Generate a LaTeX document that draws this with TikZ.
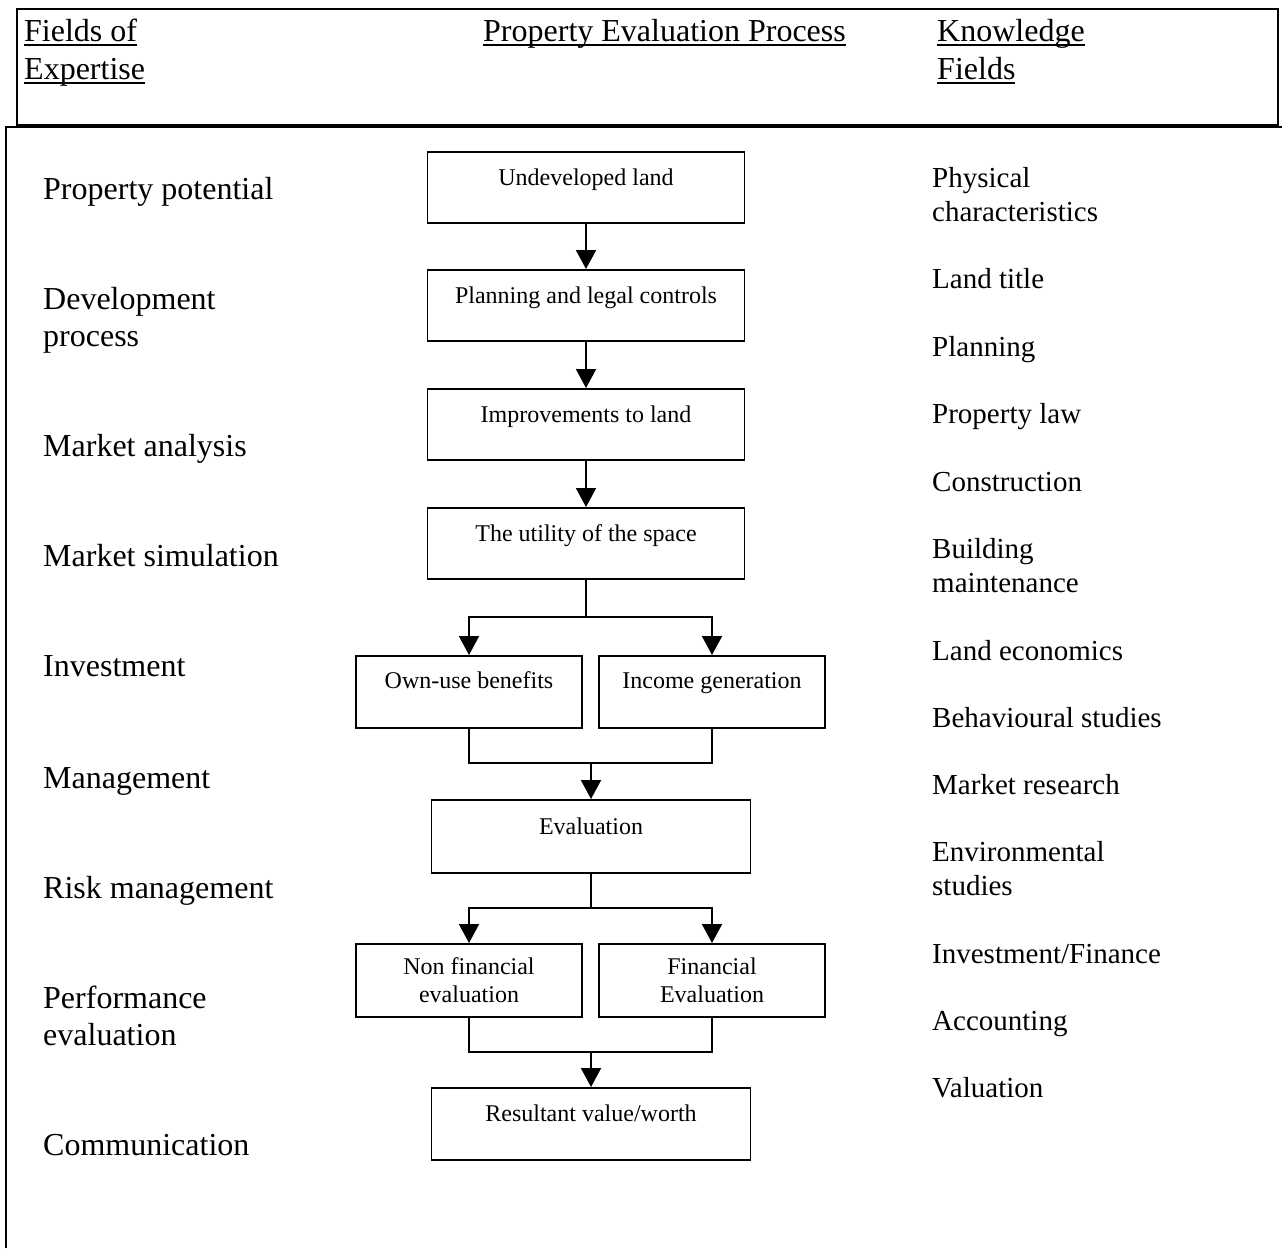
\documentclass[tikz,border=0pt]{standalone}
\usepackage{fontspec}
\setmainfont{Liberation Serif}
\usetikzlibrary{arrows.meta}
\newsavebox\ulbox
\newcommand\myul[1]{\sbox\ulbox{#1}\rlap{\rule[-4.5pt]{\wd\ulbox}{1.6pt}}\usebox\ulbox}
\begin{document}
\begin{tikzpicture}[x=1pt,y=-1pt,
  hdr/.style={anchor=base west, inner sep=0pt, align=left, font=\fontsize{32}{38}\selectfont},
  lft/.style={anchor=base west, inner sep=0pt, align=left, font=\fontsize{32}{37}\selectfont},
  rgt/.style={anchor=base west, inner sep=0pt, align=left, font=\fontsize{29}{34}\selectfont},
  box/.style={draw, line width=1.8pt, inner xsep=0pt, inner ysep=0pt, anchor=north, font=\fontsize{24}{28}\selectfont},
  one/.style={box, text height=34pt, text depth=37pt},
  conn/.style={line width=2pt},
  arr/.style={conn, -{Triangle[length=19pt,width=20pt]}}]
\useasboundingbox (0,0) rectangle (1282,1248);
% frames
\draw[line width=2.5pt] (17,9) rectangle (1278,125.5);
\draw[line width=2pt] (6,1248) -- (6,127) -- (1282,127);
% header (base = last line)
\node[hdr] (h1) at (24,79) {\myul{Fields of}\\\myul{Expertise}};
\node[hdr] (h2) at (483,41) {\myul{Property Evaluation Process}};
\node[hdr] (h3) at (937,79) {\myul{Knowledge}\\\myul{Fields}};
% left column
\node[lft] (l1) at (43,199) {Property potential};
\node[lft] (l2) at (43,346) {Development\\process};
\node[lft] (l3) at (43,456) {Market analysis};
\node[lft] (l4) at (43,566) {Market simulation};
\node[lft] (l5) at (43,676) {Investment};
\node[lft] (l6) at (43,788) {Management};
\node[lft] (l7) at (43,898) {Risk management};
\node[lft] (l8) at (43,1045) {Performance\\evaluation};
\node[lft] (l9) at (43,1155) {Communication};
% right column
\node[rgt] (r1) at (932,221) {Physical\\characteristics};
\node[rgt] (r2) at (932,288) {Land title};
\node[rgt] (r3) at (932,356) {Planning};
\node[rgt] (r4) at (932,423) {Property law};
\node[rgt] (r5) at (932,491) {Construction};
\node[rgt] (r6) at (932,592) {Building\\maintenance};
\node[rgt] (r7) at (932,660) {Land economics};
\node[rgt] (r8) at (932,727) {Behavioural studies};
\node[rgt] (r9) at (932,794) {Market research};
\node[rgt] (r10) at (932,895) {Environmental\\studies};
\node[rgt] (r11) at (932,963) {Investment/Finance};
\node[rgt] (r12) at (932,1030) {Accounting};
\node[rgt] (r13) at (932,1097) {Valuation};
% process boxes
\node[one, minimum width=317pt] (u1) at (586,151) {Undeveloped land};
\node[one, minimum width=317pt] (u2) at (586,269) {Planning and legal controls};
\node[one, minimum width=317pt] (u3) at (586,388) {Improvements to land};
\node[one, minimum width=317pt] (u4) at (586,507) {The utility of the space};
\node[box, minimum width=226pt, text height=33pt, text depth=39pt] (ob) at (469,655) {Own-use benefits};
\node[box, minimum width=226pt, text height=33pt, text depth=39pt] (ig) at (712,655) {Income generation};
\node[box, minimum width=319pt, text height=35pt, text depth=38pt] (ev) at (591,799) {Evaluation};
\node[box, minimum width=226pt, minimum height=73pt, align=center] (nf) at (469,943) {Non financial\\evaluation};
\node[box, minimum width=226pt, minimum height=73pt, align=center] (fe) at (712,943) {Financial\\Evaluation};
\node[box, minimum width=319pt, text height=34pt, text depth=38pt] (rv) at (591,1087) {Resultant value/worth};
% connectors
\draw[arr] (u1.south) -- (u2.north);
\draw[arr] (u2.south) -- (u3.north);
\draw[arr] (u3.south) -- (u4.north);
\coordinate (j1) at (586,617);
\draw[conn] (u4.south) -- (j1);
\draw[arr] (j1) -| (ob.north);
\draw[arr] (j1) -| (ig.north);
\coordinate (j2) at (591,763);
\draw[conn] (ob.south) |- (j2) -| (ig.south);
\draw[arr] (j2) -- (ev.north);
\coordinate (j3) at (591,908);
\draw[conn] (ev.south) -- (j3);
\draw[arr] (j3) -| (nf.north);
\draw[arr] (j3) -| (fe.north);
\coordinate (j4) at (591,1052);
\draw[conn] (nf.south) |- (j4) -| (fe.south);
\draw[arr] (j4) -- (rv.north);
\end{tikzpicture}
\end{document}
